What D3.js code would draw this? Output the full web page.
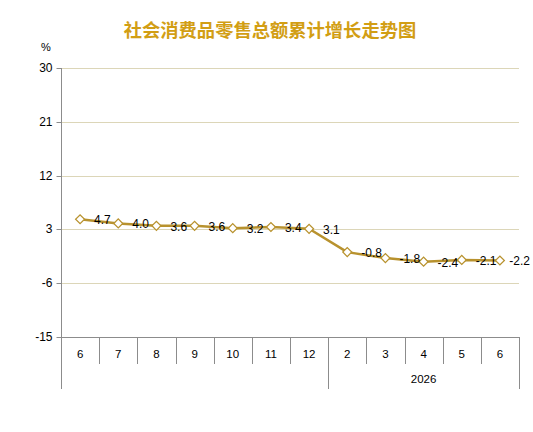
<!DOCTYPE html>
<html><head><meta charset="utf-8">
<script src="https://cdn.jsdelivr.net/npm/d3@7"></script>
<style>body{margin:0;background:#fff}svg{display:block}</style>
</head><body>
<svg id="c" width="533" height="432"></svg>
<script>
const title = "社会消费品零售总额累计增长走势图";
const months = ["6","7","8","9","10","11","12","2","3","4","5","6"];
const groups = [{label:"", count:7},{label:"2026", count:5}];
const values = [4.7, 4.0, 3.6, 3.6, 3.2, 3.4, 3.1, -0.8, -1.8, -2.4, -2.1, -2.2];
const yTicks = [30, 21, 12, 3, -6, -15];

const svg = d3.select("#c");
const L = 61, R = 519, T = 68, B = 337;
const font = "'Liberation Sans', Arial, sans-serif";
const gold = "#b8922e";
const gridColor = "#dcd6b8";
const axisColor = "#8c8c8c";

const idx = months.map((m,i)=>i);
const x = d3.scaleBand().domain(idx).range([L, R]).padding(0);
const y = d3.scaleLinear().domain([-15, 30]).range([B, T]);

svg.append("text").attr("x", 270).attr("y", 37).attr("text-anchor","middle")
  .attr("font-family","'Noto Sans CJK SC', sans-serif").attr("font-weight","bold")
  .attr("font-size", 18.3).attr("fill", "#d29e14").text(title);

svg.append("text").attr("x", 46).attr("y", 51).attr("text-anchor","middle")
  .attr("font-family", font).attr("font-size", 11).attr("fill","#000").text("%");

// gridlines
svg.append("g").selectAll("line").data(yTicks.filter(d=>d!==-15)).join("line")
  .attr("x1", L).attr("x2", R).attr("y1", d=>Math.round(y(d))+0.5).attr("y2", d=>Math.round(y(d))+0.5)
  .attr("stroke", gridColor).attr("stroke-width", 1);

// y axis
const yAxis = d3.axisLeft(y).tickValues(yTicks).tickSize(5).tickPadding(4).tickFormat(d=>String(d));
const gy = svg.append("g").attr("transform", `translate(${L+0.5},0)`).call(yAxis);
gy.select(".domain").remove();
gy.selectAll(".tick line").attr("stroke", axisColor);
gy.selectAll(".tick text").attr("font-family", font).attr("font-size", 12).attr("fill","#000");
gy.selectAll(".tick").attr("transform", d=>`translate(0,${Math.round(y(d))+0.5})`);
svg.append("line").attr("x1", L+0.5).attr("x2", L+0.5).attr("y1", T).attr("y2", 389)
  .attr("stroke", axisColor);

// x axis baseline
svg.append("line").attr("x1", L).attr("x2", R+0.5).attr("y1", Math.round(y(-15))+0.5).attr("y2", Math.round(y(-15))+0.5)
  .attr("stroke", axisColor);

// category separators
const bw = x.bandwidth();
svg.append("g").selectAll("line").data(idx.slice(1)).join("line")
  .attr("x1", d=>Math.round(x(d))+0.5).attr("x2", d=>Math.round(x(d))+0.5)
  .attr("y1", B).attr("y2", 364).attr("stroke", axisColor);
svg.append("g").selectAll("text").data(idx).join("text")
  .attr("x", d=>x(d)+bw/2).attr("y", 358).attr("text-anchor","middle")
  .attr("font-family", font).attr("font-size", 11.5).attr("fill","#000").text(d=>months[d]);

// group separators
let acc = 0; const gb = [0];
groups.forEach(g=>{acc+=g.count; gb.push(acc);});
svg.append("g").selectAll("line").data(gb.slice(1)).join("line")
  .attr("x1", d=> d>=months.length ? R+0.5 : Math.round(x(d))+0.5)
  .attr("x2", d=> d>=months.length ? R+0.5 : Math.round(x(d))+0.5)
  .attr("y1", B).attr("y2", 389).attr("stroke", axisColor);
svg.append("g").selectAll("text").data(groups.map((g,i)=>({g, s:gb[i], e:gb[i+1]}))).join("text")
  .attr("x", d=> (x(d.s) + (d.e>=months.length ? R : x(d.e)))/2).attr("y", 383).attr("text-anchor","middle")
  .attr("font-family", font).attr("font-size", 11.5).attr("fill","#000").text(d=>d.g.label);

// line
const line = d3.line().x((d,i)=>x(i)+bw/2).y(d=>y(d));
svg.append("path").datum(values).attr("d", line).attr("fill","none")
  .attr("stroke", gold).attr("stroke-width", 2.5).attr("stroke-linejoin","round");

// markers
svg.append("g").selectAll("path").data(values).join("path")
  .attr("d", d3.symbol().type(d3.symbolSquare).size(40))
  .attr("transform", (d,i)=>`translate(${x(i)+bw/2},${y(d)}) rotate(45)`)
  .attr("fill","#fff").attr("stroke", gold).attr("stroke-width", 1.25);

// labels
const labs = svg.append("g").selectAll("text").data(values).join("text")
  .attr("y", d=>y(d)+5)
  .attr("font-family", font).attr("font-size", 12).attr("fill","#000")
  .text(d=>d.toFixed(1));
labs.each(function(d,i){
  const w = this.getComputedTextLength();
  const px = x(i)+bw/2;
  d3.select(this).attr("x", Math.min(px+14, Math.max(px+6, 530 - w)));
});
</script>
</body></html>
